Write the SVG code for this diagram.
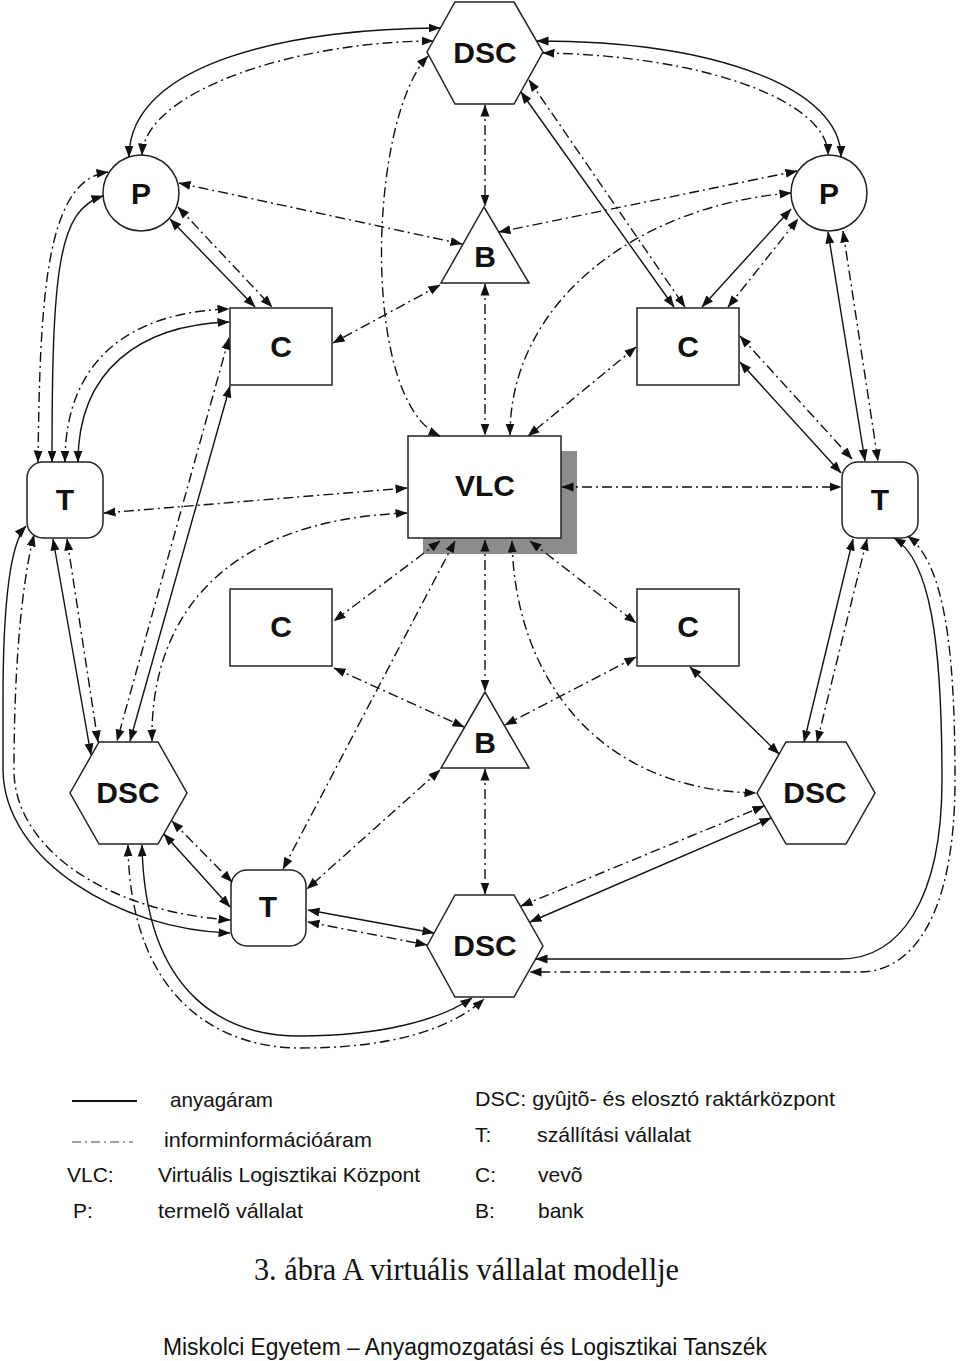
<svg xmlns="http://www.w3.org/2000/svg" width="960" height="1361" viewBox="0 0 960 1361">
<defs>
<marker id="ah" viewBox="0 0 12 10" refX="11.5" refY="5" markerWidth="12" markerHeight="10" markerUnits="userSpaceOnUse" orient="auto-start-reverse">
<path d="M0,0.5 L12,5 L0,9.5 Z" fill="#111"/>
</marker>
</defs>
<style>
.n{fill:#fff;stroke:#222;stroke-width:1.5}
.lbl{font-family:"Liberation Sans",Arial,sans-serif;font-weight:bold;font-size:30px;text-anchor:middle;fill:#111}
.s{fill:none;stroke:#111;stroke-width:1.4;marker-start:url(#ah);marker-end:url(#ah)}
.d{fill:none;stroke:#111;stroke-width:1.4;stroke-dasharray:10 4 2 4;marker-start:url(#ah);marker-end:url(#ah)}
.lg{font-family:"Liberation Sans",Arial,sans-serif;font-size:21px;fill:#111}
</style>
<rect width="960" height="1361" fill="#fff"/>
<g id="nodes">
<g id="dsc-top"><polygon class="n" points="427,52 455,2 514,2 543,52 514,104 455,104"/><text class="lbl" x="485" y="63">DSC</text></g>
<g id="p-left"><circle class="n" cx="141" cy="193" r="38"/><text class="lbl" x="141" y="204">P</text></g>
<g id="p-right"><circle class="n" cx="829" cy="193" r="38"/><text class="lbl" x="829" y="204">P</text></g>
<g id="b-top"><polygon class="n" points="484,207 441,283 529,283"/><text class="lbl" x="485" y="267">B</text></g>
<g id="c-top-left"><rect class="n" x="230" y="308" width="102" height="77"/><text class="lbl" x="281" y="357">C</text></g>
<g id="c-top-right"><rect class="n" x="637" y="308" width="102" height="77"/><text class="lbl" x="688" y="357">C</text></g>
<g id="vlc"><rect x="423" y="451" width="154" height="103" fill="#8c8c8c"/><rect class="n" x="408" y="436" width="153" height="102"/><text class="lbl" x="485" y="496">VLC</text></g>
<g id="t-left"><rect class="n" x="27" y="462" width="76" height="76" rx="16"/><text class="lbl" x="65" y="510">T</text></g>
<g id="t-right"><rect class="n" x="842" y="462" width="76" height="76" rx="16"/><text class="lbl" x="880" y="510">T</text></g>
<g id="c-mid-left"><rect class="n" x="230" y="589" width="102" height="77"/><text class="lbl" x="281" y="637">C</text></g>
<g id="c-mid-right"><rect class="n" x="637" y="589" width="102" height="77"/><text class="lbl" x="688" y="637">C</text></g>
<g id="b-mid"><polygon class="n" points="485,692 441,768 529,768"/><text class="lbl" x="485" y="753">B</text></g>
<g id="dsc-left"><polygon class="n" points="70,793 99,742 158,742 187,793 158,844 99,844"/><text class="lbl" x="128" y="803">DSC</text></g>
<g id="dsc-right"><polygon class="n" points="757,793 786,742 846,742 875,793 846,844 786,844"/><text class="lbl" x="815" y="803">DSC</text></g>
<g id="t-bottom"><rect class="n" x="231" y="870" width="75" height="76" rx="16"/><text class="lbl" x="268" y="917">T</text></g>
<g id="dsc-bottom"><polygon class="n" points="427,946 455,895 514,895 543,946 514,997 455,997"/><text class="lbl" x="485" y="956">DSC</text></g>
</g>
<g id="connectors">
<path class="s" d="M129,157 C129,60 300,28 440,28"/>
<path class="s" d="M537,41 C720,41 841,90 841,157"/>
<path class="s" d="M170,219 L255,307"/>
<path class="s" d="M52,462 C52,270 58,210 103,196"/>
<path class="s" d="M78,462 C78,370 140,325 229,322"/>
<path class="s" d="M230,386 L130,741"/>
<path class="s" d="M521,92 L674,307"/>
<path class="s" d="M702,307 L791,209"/>
<path class="s" d="M828,232 L865,461"/>
<path class="s" d="M740,362 L841,473"/>
<path class="s" d="M53,539 L91,755"/>
<path class="s" d="M26,526 C8,545 3,620 3,700 L3,770 C4,860 120,930 230,933"/>
<path class="s" d="M164,834 L230,907"/>
<path class="s" d="M142,845 C145,1000 230,1036 300,1036 C380,1036 440,1020 472,998"/>
<path class="s" d="M308,910 L434,933"/>
<path class="s" d="M690,667 L779,754"/>
<path class="s" d="M853,539 L804,742"/>
<path class="s" d="M894,538 C930,560 942,640 942,780 C942,900 900,959 840,959 L536,959"/>
<path class="s" d="M530,922 L771,818"/>
<path class="d" d="M142,155 C145,90 300,41 433,41"/>
<path class="d" d="M543,53 C700,55 828,100 828,155"/>
<path class="d" d="M428,56 C368,120 360,400 440,436"/>
<path class="d" d="M179,183 L462,244"/>
<path class="d" d="M178,207 L272,307"/>
<path class="d" d="M440,285 L333,343"/>
<path class="d" d="M38,462 C40,300 45,180 108,172"/>
<path class="d" d="M65,462 C65,360 130,312 229,309"/>
<path class="d" d="M229,338 L117,741"/>
<path class="d" d="M485,105 L485,206"/>
<path class="d" d="M485,284 L485,435"/>
<path class="d" d="M529,80 L685,307"/>
<path class="d" d="M797,171 L499,232"/>
<path class="d" d="M791,193 C640,205 510,300 510,435"/>
<path class="d" d="M636,347 L528,436"/>
<path class="d" d="M728,307 L798,219"/>
<path class="d" d="M843,231 L878,461"/>
<path class="d" d="M740,336 L852,459"/>
<path class="d" d="M562,487 L841,487"/>
<path class="d" d="M104,513 L407,488"/>
<path class="d" d="M152,741 C150,620 220,520 407,513"/>
<path class="d" d="M67,539 L98,742"/>
<path class="d" d="M34,535 C20,590 14,680 14,770 C14,850 110,912 230,920"/>
<path class="d" d="M172,821 L232,882"/>
<path class="d" d="M128,845 C130,1000 220,1048 300,1048 C390,1048 450,1030 484,999"/>
<path class="d" d="M308,922 L427,945"/>
<path class="d" d="M455,541 L283,869"/>
<path class="d" d="M440,770 L307,889"/>
<path class="d" d="M440,541 L334,621"/>
<path class="d" d="M334,668 L464,727"/>
<path class="d" d="M485,540 L485,691"/>
<path class="d" d="M485,769 L485,894"/>
<path class="d" d="M530,541 L636,623"/>
<path class="d" d="M636,657 L505,725"/>
<path class="d" d="M512,541 C515,680 600,790 756,793"/>
<path class="d" d="M867,539 L817,742"/>
<path class="d" d="M908,536 C945,565 955,650 955,780 C955,920 910,972 860,972 L530,972"/>
<path class="d" d="M521,906 L764,806"/>
</g>
<g id="legend">
<line x1="72" y1="1101" x2="137" y2="1101" stroke="#111" stroke-width="2.2"/>
<line x1="72" y1="1142" x2="133" y2="1142" stroke="#444" stroke-width="1.2" stroke-dasharray="9 4 2 4"/>
<text class="lg" x="170" y="1107" textLength="103" lengthAdjust="spacingAndGlyphs">anyagáram</text>
<text class="lg" x="164" y="1147" textLength="208" lengthAdjust="spacingAndGlyphs">informinformációáram</text>
<text class="lg" x="67" y="1182">VLC:</text>
<text class="lg" x="158" y="1182" textLength="262" lengthAdjust="spacingAndGlyphs">Virtuális Logisztikai Központ</text>
<text class="lg" x="73" y="1218">P:</text>
<text class="lg" x="158" y="1218" textLength="145" lengthAdjust="spacingAndGlyphs">termelõ vállalat</text>
<text class="lg" x="475" y="1106" textLength="360" lengthAdjust="spacingAndGlyphs">DSC: gyûjtõ- és elosztó raktárközpont</text>
<text class="lg" x="475" y="1142">T:</text>
<text class="lg" x="537" y="1142" textLength="154" lengthAdjust="spacingAndGlyphs">szállítási vállalat</text>
<text class="lg" x="475" y="1182">C:</text>
<text class="lg" x="538" y="1182">vevõ</text>
<text class="lg" x="475" y="1218">B:</text>
<text class="lg" x="538" y="1218">bank</text>
<text x="254" y="1280" font-family="'Liberation Serif','Times New Roman',serif" font-size="32" fill="#111" textLength="425" lengthAdjust="spacingAndGlyphs">3. ábra A virtuális vállalat modellje</text>
<text x="163" y="1355" font-family="'Liberation Sans',Arial,sans-serif" font-size="23" fill="#111" textLength="604" lengthAdjust="spacingAndGlyphs">Miskolci Egyetem – Anyagmozgatási és Logisztikai Tanszék</text>
</g>
</svg>
